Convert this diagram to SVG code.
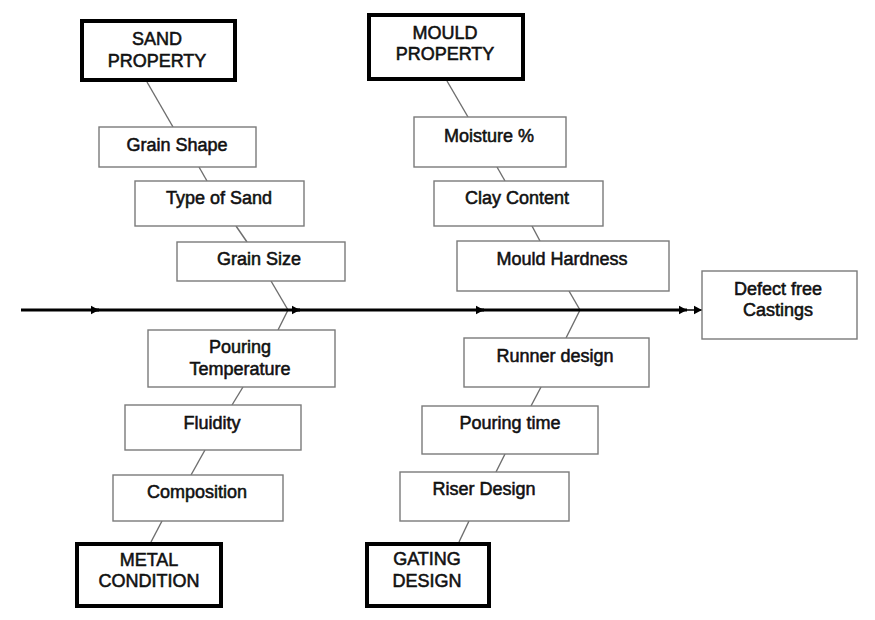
<svg xmlns="http://www.w3.org/2000/svg" width="875" height="620" viewBox="0 0 875 620">
<defs>
<marker id="ah" markerUnits="userSpaceOnUse" markerWidth="8" markerHeight="10" refX="8" refY="5" orient="auto">
<path d="M0,0.8 L8,5 L0,9.2 Z" fill="#000"/>
</marker>
<style>
.box{fill:#fff;stroke:#7a7a7a;stroke-width:1.4}
.hbox{fill:#fff;stroke:#000;stroke-width:4}
.lbl{font-family:"Liberation Sans",Arial,sans-serif;font-size:18px;fill:#111;text-anchor:middle;stroke:#111;stroke-width:0.55}
.bone{stroke:#6e6e6e;stroke-width:1.4;fill:none}
.spine{stroke:#000;stroke-width:3;fill:none}
</style>
</defs>
<rect width="875" height="620" fill="#fff"/>
<g id="connectors">
<line class="bone" x1="147" y1="82" x2="173" y2="127"/>
<line class="bone" x1="199" y1="167" x2="207" y2="181"/>
<line class="bone" x1="236" y1="226" x2="247" y2="242"/>
<line class="bone" x1="271" y1="281" x2="288" y2="310"/>
<line class="bone" x1="288" y1="310" x2="278" y2="330"/>
<line class="bone" x1="243" y1="387" x2="232" y2="405"/>
<line class="bone" x1="205" y1="450" x2="191" y2="475"/>
<line class="bone" x1="162" y1="521" x2="151" y2="542"/>
<line class="bone" x1="447" y1="81" x2="468" y2="117"/>
<line class="bone" x1="497" y1="167" x2="505" y2="181"/>
<line class="bone" x1="532" y1="226" x2="540" y2="241"/>
<line class="bone" x1="569" y1="291" x2="580" y2="310"/>
<line class="bone" x1="580" y1="310" x2="566" y2="338"/>
<line class="bone" x1="541" y1="387" x2="531" y2="406"/>
<line class="bone" x1="505" y1="454" x2="496" y2="472"/>
<line class="bone" x1="469" y1="521" x2="459" y2="542"/>
<line class="spine" x1="21" y1="310" x2="99" y2="310" marker-end="url(#ah)"/>
<line class="spine" x1="95" y1="310" x2="300" y2="310" marker-end="url(#ah)"/>
<line class="spine" x1="296" y1="310" x2="484" y2="310" marker-end="url(#ah)"/>
<line class="spine" x1="480" y1="310" x2="687" y2="310" marker-end="url(#ah)"/>
<line x1="683" y1="310" x2="702" y2="310" stroke="#000" stroke-width="1.5" marker-end="url(#ah)"/>
</g>
<g id="sand-property"><rect class="hbox" x="82" y="21" width="153" height="59"/><text class="lbl" x="157" y="45">SAND</text><text class="lbl" x="157" y="67">PROPERTY</text></g>
<g id="grain-shape"><rect class="box" x="99" y="127" width="157" height="40"/><text class="lbl" x="177" y="151">Grain Shape</text></g>
<g id="type-of-sand"><rect class="box" x="135" y="181" width="169" height="45"/><text class="lbl" x="219" y="204">Type of Sand</text></g>
<g id="grain-size"><rect class="box" x="177" y="242" width="168" height="39"/><text class="lbl" x="259" y="265">Grain Size</text></g>
<g id="pouring-temperature"><rect class="box" x="148" y="330" width="187" height="57"/><text class="lbl" x="240" y="353">Pouring</text><text class="lbl" x="240" y="375">Temperature</text></g>
<g id="fluidity"><rect class="box" x="125" y="405" width="176" height="45"/><text class="lbl" x="212" y="429">Fluidity</text></g>
<g id="composition"><rect class="box" x="113" y="475" width="170" height="46"/><text class="lbl" x="197" y="498">Composition</text></g>
<g id="metal-condition"><rect class="hbox" x="77" y="544" width="144" height="62"/><text class="lbl" x="149" y="566">METAL</text><text class="lbl" x="149" y="587">CONDITION</text></g>
<g id="mould-property"><rect class="hbox" x="369" y="15" width="154" height="64"/><text class="lbl" x="445" y="39">MOULD</text><text class="lbl" x="445" y="60">PROPERTY</text></g>
<g id="moisture"><rect class="box" x="414" y="117" width="152" height="50"/><text class="lbl" x="489" y="142">Moisture %</text></g>
<g id="clay-content"><rect class="box" x="434" y="181" width="169" height="45"/><text class="lbl" x="517" y="204">Clay Content</text></g>
<g id="mould-hardness"><rect class="box" x="457" y="241" width="212" height="50"/><text class="lbl" x="562" y="265">Mould Hardness</text></g>
<g id="runner-design"><rect class="box" x="464" y="338" width="185" height="49"/><text class="lbl" x="555" y="362">Runner design</text></g>
<g id="pouring-time"><rect class="box" x="422" y="406" width="176" height="48"/><text class="lbl" x="510" y="429">Pouring time</text></g>
<g id="riser-design"><rect class="box" x="400" y="472" width="169" height="49"/><text class="lbl" x="484" y="495">Riser Design</text></g>
<g id="gating-design"><rect class="hbox" x="367" y="544" width="122" height="62"/><text class="lbl" x="427" y="565">GATING</text><text class="lbl" x="427" y="587">DESIGN</text></g>
<g id="defect-free-castings"><rect class="box" x="702" y="271" width="155" height="68"/><text class="lbl" x="778" y="295">Defect free</text><text class="lbl" x="778" y="316">Castings</text></g>
</svg>
